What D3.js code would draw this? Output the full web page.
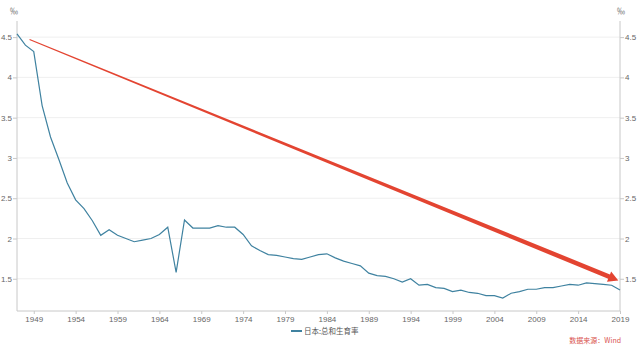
<!DOCTYPE html>
<html><head><meta charset="utf-8">
<script src="https://cdn.jsdelivr.net/npm/d3@7"></script>
<style>body{margin:0;background:#fff;}svg{display:block;font-family:"Microsoft YaHei","Noto Sans CJK SC",sans-serif;}</style>
</head><body>
<svg id="c" width="640" height="347"></svg>
<script>
const years = d3.range(1947, 2020);
const tfr = [4.54,4.40,4.32,3.65,3.26,2.98,2.69,2.48,2.37,2.22,2.04,2.11,2.04,2.00,1.96,1.98,2.00,2.05,2.14,1.58,2.23,2.13,2.13,2.13,2.16,2.14,2.14,2.05,1.91,1.85,1.80,1.79,1.77,1.75,1.74,1.77,1.80,1.81,1.76,1.72,1.69,1.66,1.57,1.54,1.53,1.50,1.46,1.50,1.42,1.43,1.39,1.38,1.34,1.36,1.33,1.32,1.29,1.29,1.26,1.32,1.34,1.37,1.37,1.39,1.39,1.41,1.43,1.42,1.45,1.44,1.43,1.42,1.36];
const xTicks = [1949,1954,1959,1964,1969,1974,1979,1984,1989,1994,1999,2004,2009,2014,2019];
const yTicks = [1.5,2,2.5,3,3.5,4,4.5];
const seriesName = "日本:总和生育率";
const sourceText = "数据来源：Wind";
const unit = "‰";
const arrowFrom = [1948.5, 4.47];
const arrowTo = [2018.8, 1.48];

const svg = d3.select("#c");
const L = 17, R = 620, T = 21, B = 311;
const x = d3.scaleLinear().domain([1947, 2019]).range([L, R]);
const y = d3.scaleLinear().domain([1.1, 4.7]).range([B, T]);

// grid
svg.append("g").selectAll("line").data(yTicks).join("line")
  .attr("x1", L).attr("x2", R).attr("y1", d => y(d)).attr("y2", d => y(d))
  .attr("stroke", "#efefef").attr("stroke-width", 1);

const fmt = d => String(d);
const gl = svg.append("g").attr("transform", `translate(${L},0)`)
  .call(d3.axisLeft(y).tickValues(yTicks).tickFormat(fmt).tickSize(4).tickPadding(1));
const gr = svg.append("g").attr("transform", `translate(${R},0)`)
  .call(d3.axisRight(y).tickValues(yTicks).tickFormat(fmt).tickSize(4).tickPadding(1));
const gx = svg.append("g").attr("transform", `translate(0,${B})`)
  .call(d3.axisBottom(x).tickValues(xTicks).tickFormat(d3.format("d")).tickSize(3).tickPadding(2));
[gl, gr, gx].forEach(g => {
  g.select(".domain").attr("stroke", "#c8c8c8");
  g.selectAll(".tick line").attr("stroke", "#c8c8c8");
  g.selectAll("text").attr("fill", "#666").attr("font-size", 8).attr("font-family", "Arial, 'Liberation Sans', sans-serif");
});
gl.select(".domain").attr("d", `M0,${T}V${B}`);
gr.select(".domain").attr("d", `M0,${T}V${B}`);
gx.select(".domain").attr("d", `M${L},0H${R}`);

svg.append("text").attr("x", 14).attr("y", 14).attr("font-size", 8).attr("fill", "#666").attr("text-anchor", "middle").text(unit);
svg.append("text").attr("x", 621).attr("y", 14).attr("font-size", 8).attr("fill", "#666").attr("text-anchor", "middle").text(unit);

// line
svg.append("path").datum(years.map((yr, i) => [yr, tfr[i]]))
  .attr("d", d3.line().x(d => x(d[0])).y(d => y(d[1])))
  .attr("fill", "none").attr("stroke", "#3f82a0").attr("stroke-width", 1.2);

// red tapered arrow
const x0 = x(arrowFrom[0]), y0 = y(arrowFrom[1]), x1 = x(arrowTo[0]), y1 = y(arrowTo[1]);
const dx = x1 - x0, dy = y1 - y0, len = Math.hypot(dx, dy);
const ux = dx / len, uy = dy / len, nx = -uy, ny = ux;
const headLen = 10, headW = 5.5, w0 = 0.5, w1 = 2.4;
const bx = x1 - ux * headLen, by = y1 - uy * headLen;
const pts = [
  [x0 + nx * w0, y0 + ny * w0],
  [bx + nx * w1, by + ny * w1],
  [bx + nx * headW, by + ny * headW],
  [x1, y1],
  [bx - nx * headW, by - ny * headW],
  [bx - nx * w1, by - ny * w1],
  [x0 - nx * w0, y0 - ny * w0]
];
svg.append("path").attr("d", "M" + pts.map(p => p.join(",")).join("L") + "Z")
  .attr("fill", "#e23a26").attr("opacity", 0.95);

// legend
svg.append("line").attr("x1", 291).attr("x2", 302).attr("y1", 331).attr("y2", 331)
  .attr("stroke", "#3f82a0").attr("stroke-width", 2);
svg.append("text").attr("x", 304).attr("y", 334).attr("font-size", 7.5).attr("fill", "#555").text(seriesName);

// source
svg.append("text").attr("x", 621).attr("y", 343).attr("text-anchor", "end").attr("font-size", 7).attr("fill", "#d9534f").text(sourceText);
</script>
</body></html>
